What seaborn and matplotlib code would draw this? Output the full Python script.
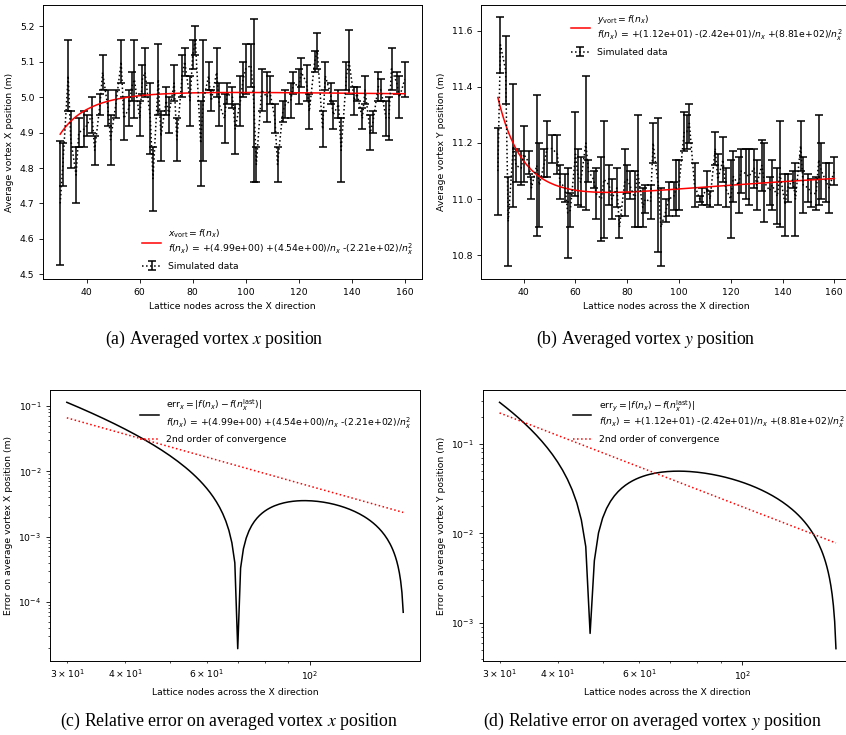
import numpy as np
import pandas as pd
import matplotlib
matplotlib.use("Agg")
import matplotlib.pyplot as plt
import seaborn as sns

# lattice nodes of the simulations
nodes = [30, 31, 33, 34, 36, 37, 39, 40, 42, 43,
         45, 46, 48, 49, 51, 53, 54, 56, 57, 58,
         60, 61, 62, 64, 65, 67, 68, 70, 71, 73,
         74, 76, 77, 79, 80, 81, 83, 84, 86, 87,
         89, 90, 92, 93, 95, 96, 98, 99, 100, 102,
         103, 104, 106, 108, 109, 111, 112, 114, 115, 117,
         118, 120, 121, 123, 124, 126, 127, 129, 130, 132,
         133, 135, 136, 138, 139, 141, 142, 144, 145, 147,
         148, 150, 151, 153, 154, 155, 157, 158, 160]

# averaged vortex x position and its error bar
x_mean = [4.70, 4.81, 5.06, 4.88, 4.78, 4.90, 4.91, 4.92, 4.95, 4.85,
          4.98, 5.07, 4.97, 4.88, 4.98, 5.10, 4.94, 4.97, 5.03, 5.05,
          4.94, 5.05, 5.07, 4.94, 4.77, 5.05, 4.89, 4.99, 4.95, 5.04,
          4.88, 5.06, 5.10, 4.99, 5.12, 5.16, 4.87, 4.99, 5.06, 4.99,
          5.07, 4.98, 4.94, 5.01, 5.00, 4.91, 4.99, 5.05, 5.08, 5.09,
          4.99, 4.81, 5.02, 5.00, 5.02, 4.94, 4.81, 4.96, 4.98, 4.99,
          5.04, 5.03, 5.07, 5.04, 4.96, 5.10, 5.13, 4.91, 5.06, 5.01,
          4.95, 4.98, 4.85, 5.06, 5.10, 4.99, 5.01, 4.94, 5.02, 4.90,
          4.93, 5.03, 5.02, 4.94, 4.94, 5.08, 5.04, 5.00, 5.05]
x_err = [0.175, 0.06, 0.10, 0.08, 0.08, 0.04, 0.05, 0.03, 0.05, 0.04,
         0.03, 0.05, 0.05, 0.07, 0.04, 0.06, 0.06, 0.05, 0.04, 0.11,
         0.05, 0.04, 0.07, 0.10, 0.09, 0.10, 0.07, 0.04, 0.05, 0.05,
         0.06, 0.06, 0.04, 0.07, 0.04, 0.04, 0.12, 0.17, 0.04, 0.03,
         0.07, 0.06, 0.07, 0.03, 0.03, 0.07, 0.07, 0.05, 0.07, 0.06,
         0.23, 0.05, 0.06, 0.07, 0.04, 0.04, 0.05, 0.03, 0.04, 0.05,
         0.03, 0.05, 0.04, 0.05, 0.05, 0.03, 0.05, 0.05, 0.04, 0.03,
         0.04, 0.04, 0.09, 0.04, 0.09, 0.04, 0.02, 0.03, 0.04, 0.05,
         0.03, 0.04, 0.03, 0.05, 0.06, 0.06, 0.03, 0.06, 0.05]

# averaged vortex y position and its error bar
y_mean = [11.10, 11.55, 11.46, 10.92, 11.19, 11.12, 11.11, 11.16, 11.13, 11.04,
          11.12, 11.05, 11.13, 11.18, 11.18, 11.16, 11.06, 11.04, 10.95, 10.96,
          11.16, 11.08, 11.06, 11.20, 11.10, 11.07, 11.02, 11.00, 11.07, 11.05,
          11.00, 11.04, 10.90, 11.06, 11.07, 11.05, 11.00, 11.10, 10.97, 11.00,
          10.99, 11.20, 11.05, 10.90, 10.96, 11.00, 11.01, 11.04, 11.05, 11.24,
          11.24, 11.27, 11.05, 11.00, 11.01, 11.04, 11.00, 11.18, 11.07, 11.14,
          11.04, 11.00, 11.08, 11.05, 11.10, 11.09, 11.08, 11.11, 11.05, 11.12,
          11.06, 11.03, 11.05, 11.01, 11.09, 10.98, 11.04, 11.07, 11.00, 11.19,
          11.05, 11.04, 11.02, 11.02, 11.14, 11.10, 11.06, 11.04, 11.10]
y_err = [0.155, 0.10, 0.12, 0.16, 0.22, 0.06, 0.06, 0.10, 0.04, 0.04,
         0.25, 0.15, 0.05, 0.10, 0.05, 0.07, 0.06, 0.05, 0.16, 0.06,
         0.15, 0.10, 0.09, 0.24, 0.04, 0.03, 0.09, 0.15, 0.21, 0.07,
         0.07, 0.07, 0.04, 0.12, 0.05, 0.05, 0.10, 0.20, 0.07, 0.05,
         0.06, 0.07, 0.24, 0.14, 0.04, 0.06, 0.05, 0.10, 0.09, 0.07,
         0.06, 0.07, 0.08, 0.01, 0.03, 0.06, 0.03, 0.06, 0.09, 0.08,
         0.07, 0.14, 0.09, 0.10, 0.08, 0.09, 0.10, 0.07, 0.09, 0.09,
         0.14, 0.05, 0.09, 0.10, 0.19, 0.11, 0.05, 0.03, 0.13, 0.09,
         0.10, 0.05, 0.05, 0.06, 0.16, 0.10, 0.07, 0.09, 0.05]

# fitted coefficients  f(n) = c0 + c1/n + c2/n^2
x_coef = [4.99, 4.536, -221.0]
y_coef = [11.19, -24.2, 881.0]

# 2nd order convergence reference lines (end points)
conv_nodes = [30, 159]
conv_x = [0.066, 0.00235]
conv_y = [0.22, 0.0078]

captions = ["(a) Averaged vortex $x$ position",
            "(b) Averaged vortex $y$ position",
            "(c) Relative error on averaged vortex $x$ position",
            "(d) Relative error on averaged vortex $y$ position"]


def fit(c, n):
    n = np.asarray(n, dtype=float)
    return c[0] + c[1] / n + c[2] / n ** 2


def fit_label(c):
    s = lambda v: ("+" if v >= 0 else "-") + "(%.2e)" % abs(v)
    return r"$f(n_x)$ = " + s(c[0]) + " " + s(c[1]) + "/$n_x$ " + s(c[2]) + "/$n_x^2$"


plt.rcParams.update({
    "font.size": 6.7,
    "axes.linewidth": 0.7,
    "xtick.major.size": 2.7, "ytick.major.size": 2.7,
    "xtick.minor.size": 1.5, "ytick.minor.size": 1.5,
    "xtick.major.width": 0.6, "ytick.major.width": 0.6,
    "xtick.minor.width": 0.5, "ytick.minor.width": 0.5,
})

fig = plt.figure(figsize=(8.46, 7.35), dpi=100)
ax_a = fig.add_axes([0.0508, 0.620, 0.448, 0.3736])
ax_b = fig.add_axes([0.5686, 0.620, 0.4374, 0.3736])
ax_c = fig.add_axes([0.0591, 0.1007, 0.4374, 0.3687])
ax_d = fig.add_axes([0.5706, 0.1007, 0.4374, 0.3687])

n_fit = np.arange(30, 161)
n_err = np.arange(30, 160)

# top row: simulated data and fit
for ax, mean, err, coef, name, ylab, loc, ylim in [
        (ax_a, x_mean, x_err, x_coef, "x", "Average vortex X position (m)", "lower right", (4.486, 5.261)),
        (ax_b, y_mean, y_err, y_coef, "y", "Average vortex Y position (m)", "upper right", (10.714, 11.693))]:
    ax.errorbar(nodes, mean, yerr=err, fmt="k:", lw=1.1, elinewidth=1.1,
                capsize=3, capthick=1.1, label="Simulated data")
    sns.lineplot(x=n_fit, y=fit(coef, n_fit), color="red", lw=1.1, ax=ax,
                 label="$%s_{\\mathrm{vort}} = f(n_x)$\n" % name + fit_label(coef))
    ax.set_ylim(*ylim)
    ax.set_xlabel("Lattice nodes across the X direction")
    ax.set_ylabel(ylab)
    ax.legend(loc=loc, frameon=False)

# bottom row: error with respect to the finest lattice
for ax, coef, conv, name, ylab in [
        (ax_c, x_coef, conv_x, "x", "Error on average vortex X position (m)"),
        (ax_d, y_coef, conv_y, "y", "Error on average vortex Y position (m)")]:
    err_curve = np.abs(fit(coef, n_err) - fit(coef, 160))
    sns.lineplot(x=n_err, y=err_curve, color="black", lw=1.1, ax=ax,
                 label="$\\mathrm{err}_%s = |f(n_x) - f(n_x^{\\mathrm{last}})|$\n" % name + fit_label(coef))
    sns.lineplot(x=conv_nodes, y=conv, color="red", ls=":", lw=1.1, ax=ax,
                 label="2nd order of convergence")
    ax.set_xscale("log")
    ax.set_yscale("log")
    ax.set_xlabel("Lattice nodes across the X direction")
    ax.set_ylabel(ylab)
    ax.legend(loc="upper right", frameon=False)

for (x, y), txt in zip([(0.253, 0.5388), (0.763, 0.5388), (0.271, 0.019), (0.771, 0.019)], captions):
    fig.text(x, y, txt, ha="center", va="center", fontsize=12.8,
             family="Liberation Serif", math_fontfamily="stix")

fig.savefig("out.png", dpi=100)
